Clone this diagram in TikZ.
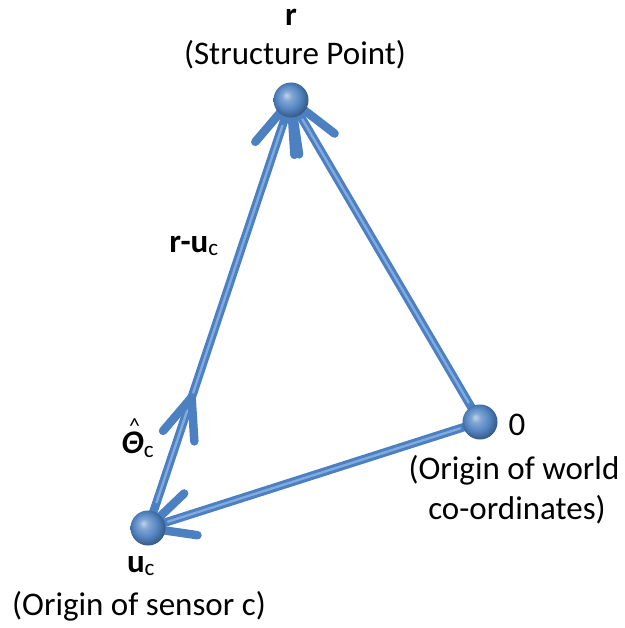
\documentclass[tikz,border=0pt]{standalone}
\usepackage{fontspec}
\setmainfont{Carlito}
\usetikzlibrary{calc}
\definecolor{tubeblue}{RGB}{76,128,192}
\definecolor{tubelight}{RGB}{128,170,224}
\pgfdeclareradialshading{sphereshade}{\pgfpoint{-7bp}{7bp}}{%
  color(0bp)=(tubeblue!35!white);
  color(7bp)=(tubeblue!70!white);
  color(17bp)=(tubeblue!95!white);
  color(27bp)=(tubeblue!70!black);
  color(40bp)=(tubeblue!70!black)}
\begin{document}
\begin{tikzpicture}[x=1pt,y=-1pt]
\useasboundingbox (0,0) rectangle (624,628);
\tikzset{
  tube/.style={line width=8.5pt, draw=tubeblue, line cap=round, line join=round},
  shine/.style={line width=2.4pt, draw=tubelight, line cap=round},
  ballnode/.style={circle, minimum size=35pt, inner sep=0pt, shading=sphereshade},
  lbl/.style={font=\fontsize{33}{39}\selectfont, text=black, inner sep=0pt},
  blbl/.style={font=\fontsize{33}{39}\selectfont\bfseries, text=black, inner sep=0pt}
}
\coordinate (R) at (291,100);
\coordinate (O) at (480,422);
\coordinate (U) at (148,528);
\coordinate (T) at ($(U)!0.305!(R)$);
% connectors
\draw[tube] (U) -- (R);
\draw[tube] (O) -- (R);
\draw[tube] (O) -- (U);
\draw[shine] ($(U)!0.06!(R)$) -- ($(U)!0.94!(R)$);
\draw[shine] ($(O)!0.06!(R)$) -- ($(O)!0.94!(R)$);
\draw[shine] ($(O)!0.06!(U)$) -- ($(O)!0.94!(U)$);
% arrowheads (open chevrons)
\draw[tube] ($(R)!55pt!22:(U)$) -- (R) -- ($(R)!55pt!-22:(U)$);
\draw[tube] ($(R)!55pt!22:(O)$) -- (R) -- ($(R)!55pt!-22:(O)$);
\draw[tube] ($(T)!44pt!22:(U)$) -- (T) -- ($(T)!44pt!-22:(U)$);
\draw[tube] ($(U)!50pt!26:(O)$) -- (U) -- ($(U)!50pt!-26:(O)$);
% spheres
\node[ballnode] (r) at (R) {};
\node[ballnode] (o) at (O) {};
\node[ballnode] (u) at (U) {};
% labels
\node[blbl] (rlbl) at (291,17) {r};
\node[lbl] (rdesc) at (295,55) {(Structure Point)};
\node[blbl] (rulbl) at (194,246) {r-u\textsubscript{\mdseries c}};
\node[lbl] (thlbl) at (138,438) {\bfseries\itshape\rlap{\kern0.22em\raisebox{0.62em}{\upshape\mdseries\fontsize{22}{22}\selectfont\^{}}}Θ\textsubscript{\upshape\mdseries c}};
\node[blbl] (ulbl) at (141,566) {u\textsubscript{\mdseries c}};
\node[lbl] (udesc) at (139,606) {(Origin of sensor c)};
\node[lbl] (olbl) at (517,425) {0};
\node[lbl] (odesc1) at (514,470) {(Origin of world};
\node[lbl] (odesc2) at (517,510) {co-ordinates)};
\end{tikzpicture}
\end{document}
